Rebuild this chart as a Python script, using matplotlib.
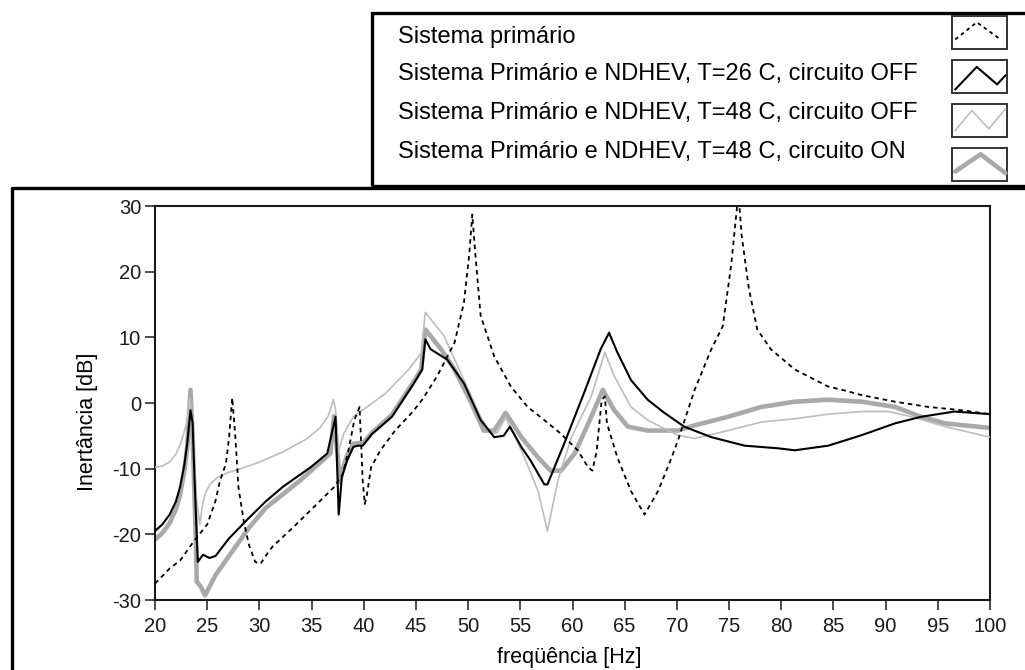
import matplotlib
matplotlib.use("Agg")
import matplotlib.pyplot as plt
from matplotlib.lines import Line2D
from matplotlib.patches import Rectangle

plt.rcParams['font.family'] = ['Liberation Sans', 'DejaVu Sans']
plt.rcParams['axes.unicode_minus'] = False

# Sistema primário
freq_prim = [20.0, 20.8, 21.4, 22.4, 23.7, 25.0, 25.8, 26.2, 26.8, 27.1, 27.4, 27.7,
             28.0, 28.5, 29.0, 29.6, 30.1, 30.9, 31.3, 33.2, 35.5, 37.1, 38.0, 38.5,
             39.1, 39.6, 39.9, 40.1, 40.3, 40.7, 41.6, 43.0, 44.6, 45.6, 47.0, 48.7,
             49.6, 50.1, 50.4, 50.7, 51.2, 52.5, 54.1, 55.7, 57.3, 58.9, 60.5, 61.5,
             61.9, 62.3, 62.8, 63.1, 63.3, 64.3, 65.6, 66.9, 68.2, 69.5, 70.1, 71.7,
             73.3, 74.4, 75.2, 75.9, 76.2, 76.9, 77.7, 79.0, 81.3, 82.9, 84.5, 86.1,
             87.7, 90.9, 94.1, 97.3, 100.0]
db_prim = [-27.5, -26.2, -25.2, -24.0, -21.1, -18.5, -14.9, -12.0, -9.2, -5.2, 0.8, -5.2,
           -12.9, -18.0, -21.6, -24.2, -24.5, -22.6, -21.8, -19.0, -15.4, -12.9, -10.8, -7.5,
           -2.6, -0.6, -11.8, -15.4, -14.0, -9.8, -7.2, -4.2, -1.5, 0.5, 4.0, 9.2,
           15.3, 22.5, 28.7, 22.5, 13.3, 7.1, 2.5, -0.6, -2.6, -4.7, -7.2, -9.8,
           -10.3, -7.5, 0.5, 1.0, -3.1, -8.3, -13.4, -17.0, -13.4, -8.3, -5.7, 2.0,
           8.2, 11.7, 21.0, 32.0, 25.6, 17.4, 11.2, 8.2, 5.1, 3.8, 2.5, 1.9,
           1.2, 0.2, -0.6, -1.1, -1.7]

# Sistema Primário e NDHEV, T=26 C, circuito OFF
freq_26off = [20.0, 20.7, 21.4, 22.0, 22.4, 22.8, 23.1, 23.4, 23.6, 23.8, 24.1, 24.6,
              25.2, 25.8, 27.1, 29.0, 30.6, 32.3, 34.9, 36.5, 37.3, 37.6, 37.9, 38.4,
              39.0, 39.4, 39.9, 40.8, 42.7, 44.8, 45.6, 45.9, 46.4, 48.0, 49.6, 51.2,
              52.5, 53.4, 54.0, 55.1, 56.0, 57.3, 57.6, 59.2, 61.1, 62.7, 63.5, 64.3,
              65.6, 67.2, 68.8, 70.7, 73.3, 76.5, 79.7, 81.3, 84.5, 87.7, 90.9, 93.4,
              96.6, 100.0]
db_26off = [-19.5, -18.5, -17.0, -15.0, -12.8, -9.5, -6.0, -1.1, -3.0, -12.0, -24.2, -23.1,
            -23.6, -23.3, -20.6, -17.5, -15.0, -12.7, -9.8, -7.7, -2.1, -17.0, -11.3, -8.8,
            -6.7, -6.5, -6.5, -4.7, -2.1, 3.0, 5.1, 9.7, 8.2, 6.6, 3.0, -2.6,
            -5.2, -5.0, -3.6, -6.7, -8.8, -12.4, -12.4, -6.2, 1.5, 8.2, 10.7, 7.7,
            3.5, 0.5, -1.5, -3.6, -5.2, -6.5, -6.9, -7.2, -6.5, -4.9, -3.1, -2.1,
            -1.3, -1.7]

# Sistema Primário e NDHEV, T=48 C, circuito OFF
freq_48off = [20.0, 20.7, 21.4, 22.0, 22.5, 22.9, 23.2, 23.35, 23.6, 24.0, 24.3, 24.5,
              24.8, 25.3, 26.0, 27.0, 28.4, 30.0, 32.3, 34.5, 35.8, 36.6, 37.1, 37.3,
              37.6, 38.1, 39.0, 39.9, 42.1, 44.3, 45.5, 45.9, 47.7, 49.0, 51.2, 52.2,
              52.8, 53.6, 55.1, 56.7, 57.6, 58.6, 59.9, 61.8, 63.1, 64.0, 65.6, 67.2,
              68.8, 70.1, 71.7, 74.9, 78.1, 81.3, 84.5, 87.7, 90.3, 92.5, 95.7, 100.0]
db_48off = [-9.8, -9.6, -9.0, -7.8, -6.0, -3.8, -1.5, 0.8, -5.0, -15.0, -18.5, -16.0,
            -13.8, -12.3, -11.3, -10.6, -9.9, -9.0, -7.4, -5.5, -3.8, -2.0, 0.5, -1.0,
            -7.2, -4.6, -2.1, -1.1, 1.5, 5.1, 7.6, 13.8, 10.2, 5.6, -2.1, -4.7,
            -4.5, -2.2, -7.2, -13.4, -19.5, -11.8, -5.2, 1.0, 7.7, 4.1, -0.6, -2.6,
            -3.9, -4.9, -5.4, -4.2, -2.9, -2.4, -1.7, -1.3, -1.3, -2.1, -3.6, -5.2]

# Sistema Primário e NDHEV, T=48 C, circuito ON
freq_48on = [20.0, 20.7, 21.4, 22.0, 22.4, 22.8, 23.1, 23.4, 23.6, 23.9, 24.0, 24.4,
             24.8, 25.8, 27.4, 29.0, 30.6, 33.9, 36.8, 37.15, 37.5, 37.7, 38.0, 38.4,
             39.0, 40.0, 40.8, 42.7, 44.8, 45.5, 45.9, 47.4, 48.7, 50.3, 51.5, 52.5,
             53.6, 55.1, 56.7, 57.9, 58.9, 60.2, 61.8, 62.9, 64.0, 65.3, 67.2, 70.1,
             71.7, 74.9, 78.1, 81.3, 84.5, 87.7, 90.9, 93.4, 95.7, 100.0]
db_48on = [-20.8, -19.8, -18.3, -16.2, -14.0, -10.5, -6.5, 2.0, -5.0, -20.0, -27.2, -28.0,
           -29.3, -26.2, -22.6, -19.0, -16.0, -11.8, -7.7, -2.0, -8.0, -12.0, -10.0, -8.0,
           -6.2, -6.0, -4.5, -1.8, 3.3, 5.1, 11.2, 8.2, 5.1, 0.0, -4.2, -4.2,
           -1.5, -5.2, -8.3, -10.3, -10.3, -7.7, -2.1, 2.0, -1.1, -3.6, -4.2, -4.2,
           -3.4, -2.1, -0.6, 0.2, 0.5, 0.2, -0.6, -2.1, -3.1, -3.8]

series_labels = [
    "Sistema primário",
    "Sistema Primário e NDHEV, T=26 C, circuito OFF",
    "Sistema Primário e NDHEV, T=48 C, circuito OFF",
    "Sistema Primário e NDHEV, T=48 C, circuito ON",
]
x_ticks = list(range(20, 101, 5))
y_ticks = list(range(-30, 31, 10))

W, H = 1025, 670
fig = plt.figure(figsize=(W / 100, H / 100), dpi=100)


def fx(px):
    return px / W


def fy(py):
    return 1 - py / H


styles = [
    dict(color="black", lw=1.3, ls=(0, (2.5, 2.2))),
    dict(color="black", lw=1.5, ls="-"),
    dict(color="#bdbdbd", lw=1.2, ls="-"),
    dict(color="#a9a9a9", lw=3.3, ls="-", solid_joinstyle="round", solid_capstyle="round"),
]

ax = fig.add_axes([fx(155), fy(600), (990 - 155) / W, (600 - 206) / H])
ax.plot(freq_48on, db_48on, zorder=2, **styles[3])
ax.plot(freq_48off, db_48off, zorder=3, **styles[2])
ax.plot(freq_26off, db_26off, zorder=4, **styles[1])
ax.plot(freq_prim, db_prim, zorder=5, **styles[0])

ax.set_xlim(20, 100)
ax.set_ylim(-30, 30)
ax.set_xticks(x_ticks)
ax.set_yticks(y_ticks)
ax.tick_params(direction="out", length=7, width=1.1, labelsize=14.5,
               top=False, right=False, colors="#1a1a1a")
ax.tick_params(axis="x", pad=5)
ax.tick_params(axis="y", pad=3)
for s in ax.spines.values():
    s.set_linewidth(1.5)
    s.set_color("#1a1a1a")

fig.text(fx(569), fy(657), "freqüência [Hz]", ha="center", va="center", fontsize=15.5)
fig.text(fx(87), fy(422), "Inertância [dB]", ha="center", va="center",
         rotation=90, fontsize=15.5)

# panel frame around the graph
fig.add_artist(Line2D([fx(11.5), fx(11.5), fx(1030)], [fy(680), fy(188.5), fy(188.5)],
                      transform=fig.transFigure, color="black", lw=2.4))

# legend box
fig.add_artist(Rectangle((fx(372), fy(186)), (1040 - 372) / W, (186 - 13) / H,
                         transform=fig.transFigure, fill=False, ec="black", lw=2.4))

text_y = [37, 74, 113, 152]
box_top = [16, 60, 104, 148]
box_h = 33
box_x0, box_x1 = 952, 1007
shapes = [
    ([0.06, 0.45, 0.85], [0.71, 0.19, 0.67]),
    ([0.06, 0.45, 0.82, 0.97], [0.89, 0.21, 0.74, 0.47]),
    ([0.06, 0.36, 0.67, 0.97], [0.80, 0.20, 0.75, 0.15]),
    ([0.06, 0.52, 0.97], [0.71, 0.19, 0.76]),
]
for i, label in enumerate(series_labels):
    fig.text(fx(398), fy(text_y[i]), label, ha="left", va="center", fontsize=17)
    top = box_top[i]
    fig.add_artist(Rectangle((fx(box_x0), fy(top + box_h)), (box_x1 - box_x0) / W, box_h / H,
                             transform=fig.transFigure, fill=False, ec="#333333", lw=1.4))
    xs, ys = shapes[i]
    px = [fx(box_x0 + u * (box_x1 - box_x0)) for u in xs]
    py = [fy(top + v * box_h) for v in ys]
    st = dict(styles[i])
    if i == 0:
        st["ls"] = (0, (2.0, 2.0))
    fig.add_artist(Line2D(px, py, transform=fig.transFigure, **st))

fig.savefig("out.png", dpi=100)
